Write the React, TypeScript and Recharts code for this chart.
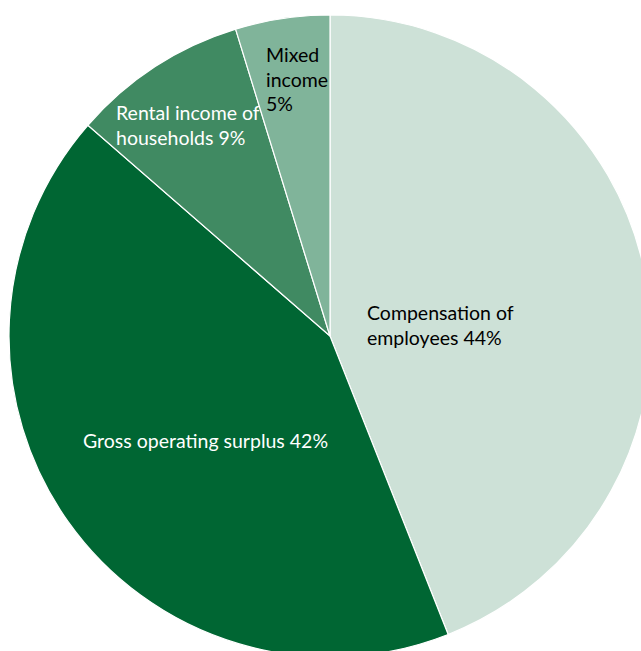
import { PieChart, Pie, Cell } from 'recharts';

const categories = ['Compensation of employees', 'Gross operating surplus', 'Rental income of households', 'Mixed income'];
const shares = [44, 42.4, 8.85, 4.75];
const labelLines = [
  ['Compensation of', 'employees 44%'],
  ['Gross operating surplus 42%'],
  ['Rental income of', 'households 9%'],
  ['Mixed', 'income', '5%'],
];

const colors = ['#cde1d7', '#006633', '#408a62', '#80b49a'];
const textColors = ['#000', '#fff', '#fff', '#000'];
// label anchor relative to pie centre (x, first baseline)
const labelPos = [
  [37, -16],
  [-247, 112],
  [-214, -216],
  [-64, -274],
];

const data = categories.map((name, i) => ({ name, value: shares[i] }));

const renderLabel = (props: any) => {
  const { cx, cy, index } = props;
  const [dx, dy] = labelPos[index];
  return (
    <text
      x={cx + dx}
      y={cy + dy}
      fill={textColors[index]}
      fontSize={19.5}
      fontFamily="Lato, sans-serif"
      textAnchor="start"
    >
      {labelLines[index].map((line, j) => (
        <tspan key={j} x={cx + dx} dy={j === 0 ? 0 : 24.5}>
          {line}
        </tspan>
      ))}
    </text>
  );
};

export default function App() {
  return (
    <div style={{ position: 'absolute', left: 0, top: 0, width: 641, height: 651, background: '#fff' }}>
      <PieChart width={641} height={651} margin={{ top: 0, right: 0, bottom: 0, left: 0 }}>
        <Pie
          data={data}
          dataKey="value"
          cx={330}
          cy={336}
          outerRadius={321}
          startAngle={90}
          endAngle={-270}
          stroke="#fff"
          strokeWidth={1.2}
          label={renderLabel}
          labelLine={false}
          isAnimationActive={false}
        >
          {data.map((d, i) => (
            <Cell key={d.name} fill={colors[i]} />
          ))}
        </Pie>
      </PieChart>
    </div>
  );
}
